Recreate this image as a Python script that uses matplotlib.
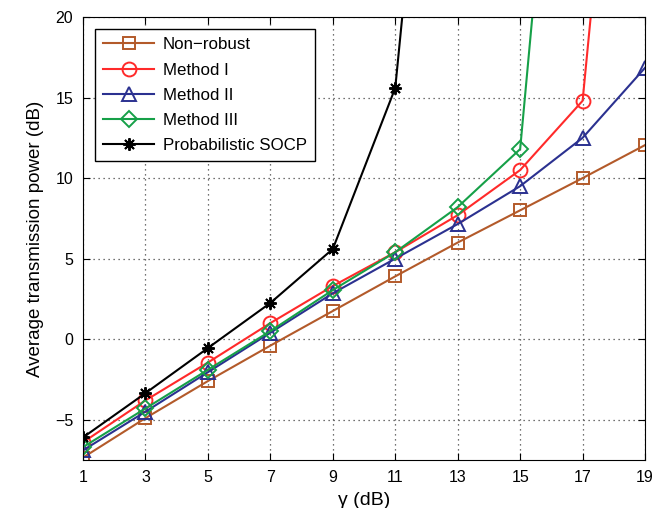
import matplotlib.pyplot as plt
import numpy as np

plt.rcParams["font.family"] = ["Liberation Sans", "DejaVu Sans"]

gamma = [1, 3, 5, 7, 9, 11, 13, 15, 17, 19]

non_robust = [-7.35, -4.9, -2.6, -0.4, 1.75, 3.9, 6.0, 8.0, 10.0, 12.05]
method_1 = [-6.4, -3.8, -1.45, 1.0, 3.3, 5.4, 7.7, 10.5, 14.8, 55.0]
method_2 = [-6.9, -4.5, -2.05, 0.4, 2.85, 5.0, 7.15, 9.5, 12.5, 16.85]
method_3 = [-6.7, -4.3, -1.9, 0.5, 3.05, 5.4, 8.2, 11.8, 54.0, 96.0]
socp_gamma = [1, 3, 5, 7, 9, 11, 13]
socp = [-6.1, -3.35, -0.55, 2.25, 5.6, 15.6, 55.0]

series = [
    (gamma, non_robust, "Non\u2212robust", "#B35A2A", "s", 9),
    (gamma, method_1, "Method I", "#FF2A2A", "o", 10),
    (gamma, method_2, "Method II", "#2B3190", "^", 10),
    (gamma, method_3, "Method III", "#16A048", "D", 8),
    (socp_gamma, socp, "Probabilistic SOCP", "black", (8, 2, 0), 9),
]

fig = plt.figure(figsize=(6.62, 5.08), dpi=100)
ax = fig.add_axes([0.1254, 0.0945, 0.849, 0.872])

for xs, ys, label, color, marker, ms in series:
    ax.plot(xs, ys, color=color, lw=1.5, marker=marker, ms=ms,
            mfc="none", mec=color, mew=1.4, label=label)

ax.set_xlim(1, 19)
ax.set_ylim(-7.5, 20)
ax.set_xticks(gamma)
ax.set_yticks([-5, 0, 5, 10, 15, 20])
ax.grid(True, linestyle=(0, (1, 3)), color="#444444", linewidth=0.9)
ax.tick_params(direction="in", top=True, right=True, labelsize=11.5,
               length=5, pad=7)
ax.set_xlabel("\u03b3 (dB)", fontsize=14, labelpad=5)
ax.set_ylabel("Average transmission power (dB)", fontsize=13.5, labelpad=8)

leg = ax.legend(loc="upper left", fontsize=12.2, frameon=True, fancybox=False,
                edgecolor="black", framealpha=1, handlelength=3.0,
                borderpad=0.5, labelspacing=0.6, borderaxespad=0.7,
                handletextpad=0.5)
leg.get_frame().set_linewidth(1.0)

fig.savefig("out.png", dpi=100)
